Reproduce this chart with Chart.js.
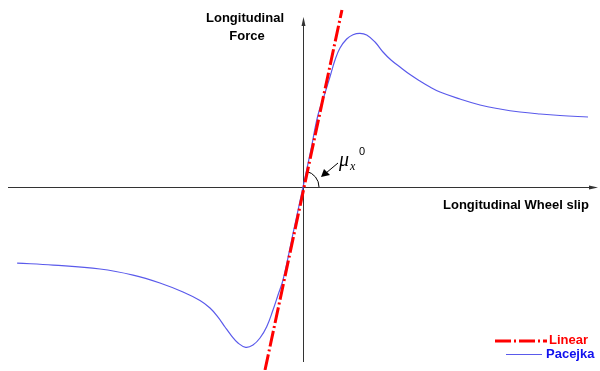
<!DOCTYPE html>
<html>
<head>
<meta charset="utf-8">
<script src="https://cdn.jsdelivr.net/npm/chart.js@4/dist/chart.umd.min.js"></script>
<style>
html,body{margin:0;padding:0;background:#fff;}
#wrap{width:600px;height:371px;position:relative;}
</style>
</head>
<body>
<div id="wrap"><canvas id="c"></canvas></div>
<script>
// ---- data (normalised slip / normalised force) ----
const slipPacejka  = [-0.969,-0.847,-0.688,-0.576,-0.485,-0.4068,-0.3492,-0.3153,-0.2881,-0.2644,-0.2417,-0.2203,-0.1942,-0.1695,-0.1458,-0.1231,-0.1017,-0.0847,-0.0678,-0.0339,0,0.0254,0.0508,0.0746,0.0915,0.1085,0.1254,0.1481,0.1695,0.1932,0.2159,0.2441,0.2712,0.2983,0.3288,0.3627,0.3966,0.4305,0.4644,0.5322,0.600,0.6678,0.7356,0.8034,0.8712,0.9661];
const forcePacejka = [-0.425,-0.436,-0.458,-0.492,-0.536,-0.5866,-0.6341,-0.6760,-0.7263,-0.7821,-0.8324,-0.8715,-0.8955,-0.8827,-0.8436,-0.7804,-0.6872,-0.6034,-0.5196,-0.26,0,0.196,0.4022,0.5251,0.6162,0.7095,0.7765,0.8268,0.8508,0.8587,0.8492,0.8101,0.7542,0.7095,0.6704,0.6285,0.5922,0.5587,0.5307,0.4916,0.4581,0.4358,0.4190,0.4078,0.3994,0.3911];
const slipLinear   = [-0.1288, 0.132];
const forceLinear  = [-1.0223, 0.989];
const seriesNames  = ['Linear','Pacejka'];
const xAxisTitle   = 'Longitudinal Wheel slip';
const yAxisTitle   = ['Longitudinal','Force'];

const toPts = (xs, ys) => xs.map((x,i)=>({x:x,y:ys[i]}));

const RED = '#ff0000';
const BLUE_LINE = 'rgb(90,90,235)';
const BLUE_TEXT = '#1010ee';

const decor = {
  id:'decor',
  beforeDatasetsDraw(chart){
    const {ctx, scales:{x,y}} = chart;
    const ox = x.getPixelForValue(0), oy = y.getPixelForValue(0);
    ctx.save();
    ctx.strokeStyle = '#333';
    ctx.fillStyle = '#333';
    ctx.lineWidth = 1;
    // horizontal axis
    ctx.beginPath();
    ctx.moveTo(x.left, oy+0.5); ctx.lineTo(x.right-2, oy+0.5); ctx.stroke();
    ctx.beginPath();
    ctx.moveTo(x.right, oy+0.5); ctx.lineTo(x.right-9, oy-1.5); ctx.lineTo(x.right-9, oy+2.5); ctx.closePath(); ctx.fill();
    // vertical axis
    ctx.beginPath();
    ctx.moveTo(ox+0.5, 362); ctx.lineTo(ox+0.5, 22); ctx.stroke();
    ctx.beginPath();
    ctx.moveTo(ox+0.5, 17); ctx.lineTo(ox-1.5, 26); ctx.lineTo(ox+2.5, 26); ctx.closePath(); ctx.fill();
    // angle arc
    const lx = x.getPixelForValue(slipLinear[1]), ly = y.getPixelForValue(forceLinear[1]);
    const ang = Math.atan2(ly-oy, lx-ox);
    ctx.strokeStyle = '#000';
    ctx.beginPath();
    ctx.arc(ox, oy, 16, ang, 0);
    ctx.stroke();
    // arrow to arc
    ctx.beginPath();
    ctx.moveTo(338, 163); ctx.lineTo(326, 173); ctx.stroke();
    ctx.fillStyle = '#000';
    ctx.beginPath();
    ctx.moveTo(321, 177); ctx.lineTo(324, 169); ctx.lineTo(330, 175); ctx.closePath(); ctx.fill();
    // mu label
    ctx.fillStyle = '#000';
    ctx.textBaseline = 'alphabetic';
    ctx.textAlign = 'left';
    ctx.font = 'italic 20px "Liberation Serif", serif';
    ctx.fillText('\u03bc', 339, 166);
    ctx.font = 'italic 12px "Liberation Serif", serif';
    ctx.fillText('x', 350, 170);
    ctx.font = '11px "Liberation Sans", Arial, sans-serif';
    ctx.fillText('0', 359, 155);
    // axis titles
    ctx.font = 'bold 13px "Liberation Sans", Arial, sans-serif';
    ctx.textAlign = 'center';
    ctx.textBaseline = 'middle';
    ctx.fillText(yAxisTitle[0], 245, 18);
    ctx.fillText(yAxisTitle[1], 247, 36);
    ctx.textAlign = 'left';
    ctx.fillText(xAxisTitle, 443, 205);
    ctx.restore();
  },
  afterDatasetsDraw(chart){
    const {ctx} = chart;
    const ds = chart.data.datasets;
    ctx.save();
    ctx.font = 'bold 13px "Liberation Sans", Arial, sans-serif';
    ctx.textBaseline = 'middle';
    ctx.textAlign = 'left';
    // Linear
    ctx.strokeStyle = ds[0].borderColor; ctx.lineWidth = ds[0].borderWidth;
    ctx.setLineDash(ds[0].borderDash);
    ctx.beginPath(); ctx.moveTo(495, 341); ctx.lineTo(547, 341); ctx.stroke();
    ctx.setLineDash([]);
    ctx.fillStyle = RED; ctx.fillText(ds[0].label, 549, 340);
    // Pacejka
    ctx.strokeStyle = ds[1].borderColor; ctx.lineWidth = ds[1].borderWidth;
    ctx.beginPath(); ctx.moveTo(506, 354.5); ctx.lineTo(542, 354.5); ctx.stroke();
    ctx.fillStyle = BLUE_TEXT; ctx.fillText(ds[1].label, 546, 354);
    ctx.restore();
  }
};

new Chart(document.getElementById('c'), {
  type:'scatter',
  data:{
    datasets:[
      {label:seriesNames[0], data:toPts(slipLinear, forceLinear), showLine:true, pointRadius:0,
       borderColor:RED, borderWidth:3, borderDash:[16,3,2,3], order:1},
      {label:seriesNames[1], data:toPts(slipPacejka, forcePacejka), showLine:true, pointRadius:0,
       borderColor:BLUE_LINE, borderWidth:1.2, tension:0.4, order:2}
    ]
  },
  options:{
    responsive:true, maintainAspectRatio:false, animation:false,
    layout:{padding:{left:8,right:2,top:8,bottom:1}},
    plugins:{legend:{display:false}, tooltip:{enabled:false}},
    scales:{
      x:{type:'linear', min:-1, max:1, display:false},
      y:{type:'linear', min:-1.0223, max:1, display:false}
    }
  },
  plugins:[decor]
});
</script>
</body>
</html>
